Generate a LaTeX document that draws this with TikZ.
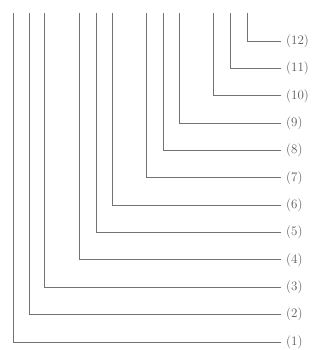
\documentclass[tikz,border=0pt]{standalone}
\begin{document}
\begin{tikzpicture}[x=1pt,y=-1pt,
  lbl/.style={anchor=west,inner sep=5pt,font=\fontsize{13}{13}\selectfont,text=black!65},
  conn/.style={draw=black!55,line width=1pt}]
\useasboundingbox (0,0) rectangle (324,350);
\foreach \i/\x in {1/13,2/29,3/44,4/79,5/96,6/112,7/146,8/163,9/179,10/213,11/230,12/247}{
  \pgfmathsetmacro{\yy}{342-(\i-1)*27.36}
  \coordinate (t\i) at (\x,13);
  \node[lbl] (l\i) at (281,\yy) {(\i)};
  \draw[conn] (t\i) |- (l\i.west);
}
\end{tikzpicture}
\end{document}
